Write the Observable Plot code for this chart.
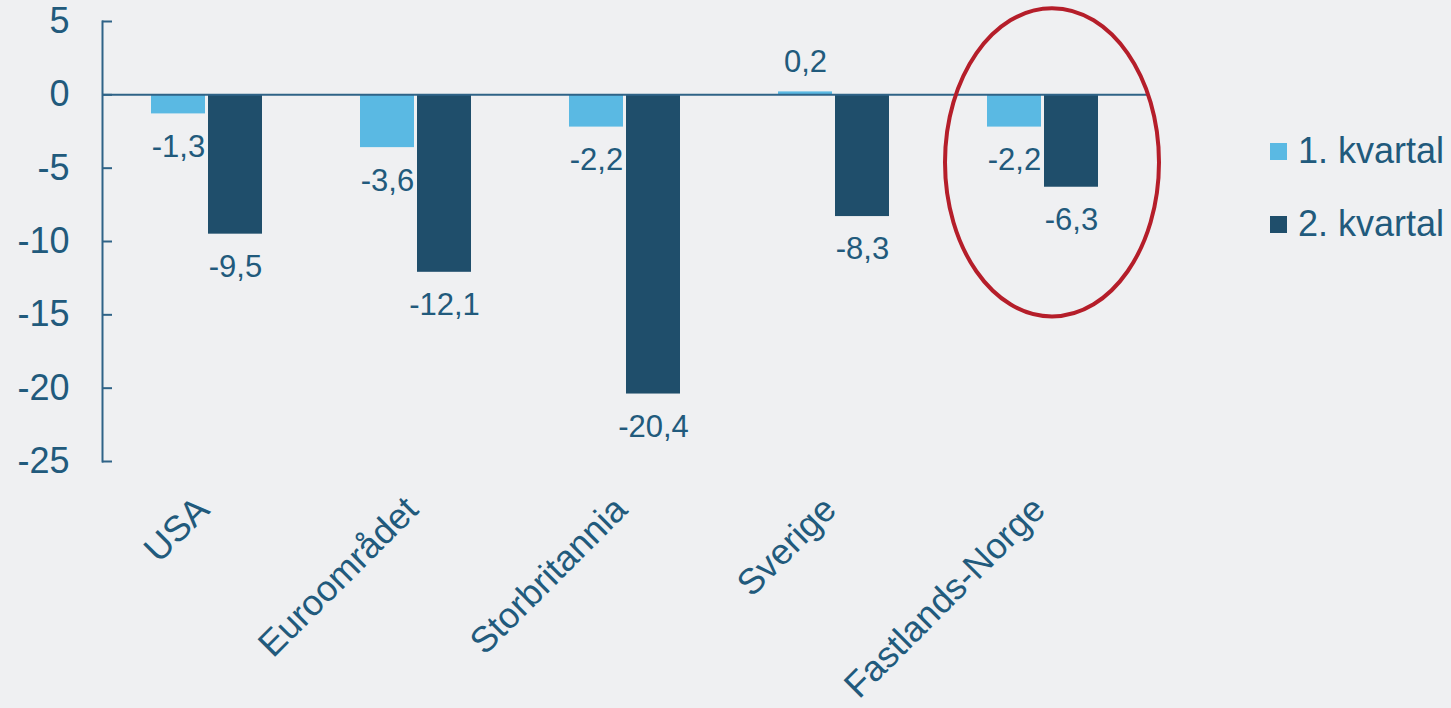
<!DOCTYPE html>
<html><head><meta charset="utf-8">
<script src="https://cdn.jsdelivr.net/npm/d3@7"></script>
<script src="https://cdn.jsdelivr.net/npm/@observablehq/plot@0.6"></script>
<style>
html,body{margin:0;padding:0;background:#eff0f2;}
#wrap{position:relative;width:1451px;height:708px;overflow:hidden;font-family:"Liberation Sans",Arial,sans-serif;}
#chart{position:absolute;left:0;top:0;}
#legend{position:absolute;left:1270px;top:129px;color:#215a7c;font-size:36px;}
.item{display:flex;align-items:center;height:44px;margin-bottom:29px;white-space:nowrap;}
.sw{width:17px;height:17px;margin-right:11px;flex:none;}
</style></head><body>
<div id="wrap"><div id="chart"></div><div id="legend"></div></div>
<script>
const countries = ["USA", "Euroområdet", "Storbritannia", "Sverige", "Fastlands-Norge"];
const seriesNames = ["1. kvartal", "2. kvartal"];
const q1 = [-1.3, -3.6, -2.2, 0.2, -2.2];
const q2 = [-9.5, -12.1, -20.4, -8.3, -6.3];
const seriesColors = ["#5ab9e3", "#1f4e6b"];
const yTicks = [5, 0, -5, -10, -15, -20, -25];
const highlight = [{country: "Fastlands-Norge", y: -4.6}];

const textColor = "#215a7c";
const axisColor = "#2f6387";

const data = [];
countries.forEach((c, i) => {
  data.push({country: c, series: seriesNames[0], value: q1[i]});
  data.push({country: c, series: seriesNames[1], value: q2[i]});
});
const fmt = v => v.toFixed(1).replace(".", ",");

const ellipse = {
  draw(ctx, size) {
    const r = Math.sqrt(size / Math.PI);
    const rx = r, ry = r * 1.44, k = 0.5523;
    ctx.moveTo(rx, 0);
    ctx.bezierCurveTo(rx, ry * k, rx * k, ry, 0, ry);
    ctx.bezierCurveTo(-rx * k, ry, -rx, ry * k, -rx, 0);
    ctx.bezierCurveTo(-rx, -ry * k, -rx * k, -ry, 0, -ry);
    ctx.bezierCurveTo(rx * k, -ry, rx, -ry * k, rx, 0);
    ctx.closePath();
  }
};

const chart = Plot.plot({
  width: 1250,
  height: 708,
  marginLeft: 101,
  marginRight: 102,
  marginTop: 21,
  marginBottom: 247,
  style: {background: "transparent", fontFamily: '"Liberation Sans", Arial, sans-serif', fontSize: "36px", color: textColor, overflow: "visible"},
  fx: {domain: countries, padding: 0, label: null},
  x: {domain: seriesNames, paddingInner: 0.055, paddingOuter: 0.83, axis: null},
  y: {domain: [-25, 5], label: null},
  color: {domain: seriesNames, range: seriesColors},
  marks: [
    Plot.barY(data, {fx: "country", x: "series", y: "value", fill: "series"}),
    Plot.ruleY([0], {stroke: axisColor, strokeWidth: 2}),
    Plot.frame({anchor: "left", facetAnchor: "left", stroke: axisColor, strokeWidth: 2}),
    Plot.axisY({ticks: yTicks, tickSize: 10, dx: 10, tickFormat: () => "", stroke: axisColor, strokeWidth: 2, label: null}),
    Plot.axisY({ticks: yTicks, tickSize: 0, tickPadding: 33, tickFormat: d => String(d), fill: textColor, fontSize: 36, label: null}),
    Plot.axisFx({anchor: "bottom", tickRotate: -45, tickSize: 0, tickPadding: 42, dx: -4, fill: textColor, fontSize: 36, label: null}),
    Plot.text(data.filter(d => d.value < 0), {fx: "country", x: "series", y: "value", text: d => fmt(d.value), dy: 33, fontSize: 31, fill: textColor}),
    Plot.text(data.filter(d => d.value >= 0), {fx: "country", x: "series", y: "value", text: d => fmt(d.value), dy: -30, fontSize: 31, fill: textColor}),
    Plot.dot(highlight, {fx: "country", y: "y", r: 107, symbol: ellipse, stroke: "#b51e2a", strokeWidth: 4, fill: "none", dx: 9})
  ]
});
document.getElementById("chart").appendChild(chart);

const legend = document.getElementById("legend");
seriesNames.forEach((name, i) => {
  const item = document.createElement("div");
  item.className = "item";
  const sw = document.createElement("span");
  sw.className = "sw";
  sw.style.background = seriesColors[i];
  const label = document.createElement("span");
  label.textContent = name;
  item.appendChild(sw);
  item.appendChild(label);
  legend.appendChild(item);
});
</script>
</body></html>
